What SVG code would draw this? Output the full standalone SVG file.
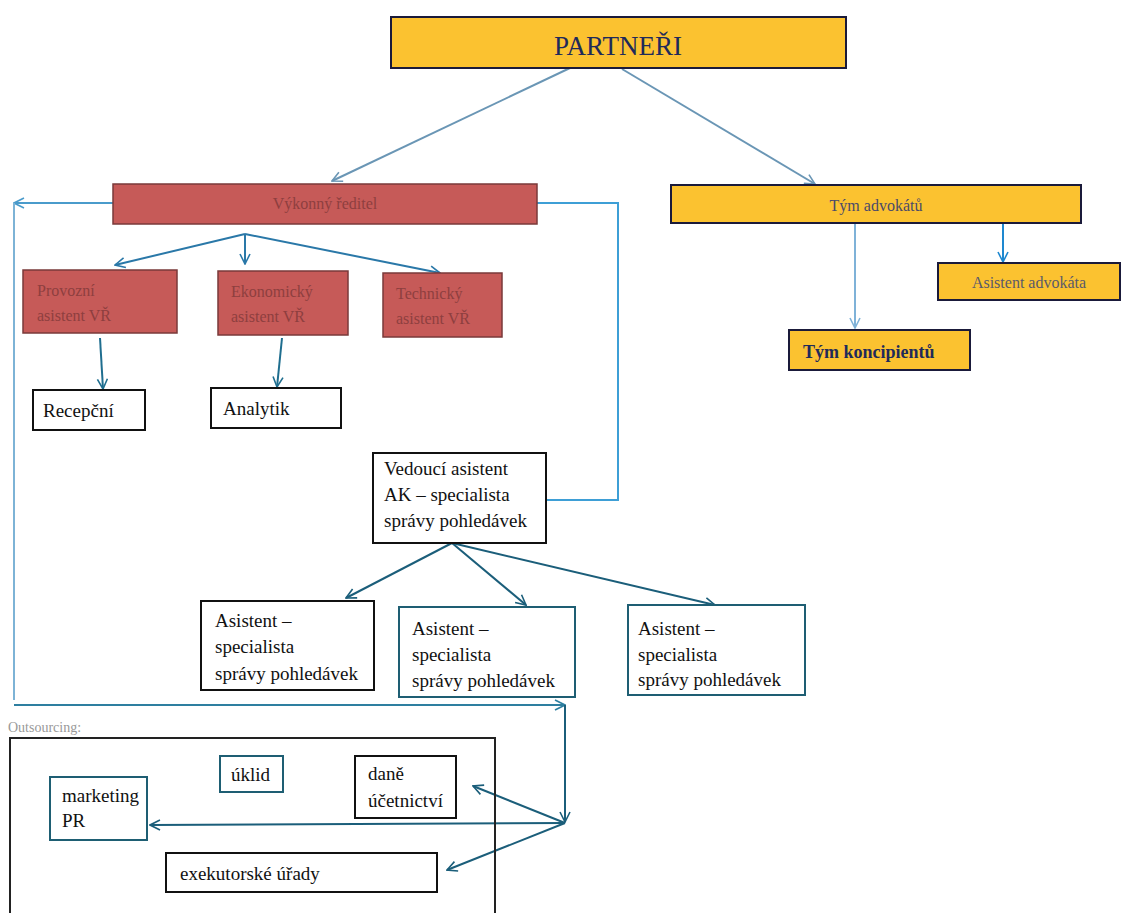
<svg xmlns="http://www.w3.org/2000/svg" width="1141" height="913" viewBox="0 0 1141 913">
<defs>
<style>
text{font-family:"Liberation Serif","Times New Roman","DejaVu Serif",serif}
.t{font-size:19px;fill:#111}
.red{fill:#C65A58;stroke:#7a3a3a;stroke-width:1.5}
.redt{font-size:16px;fill:#8E3F3F}
.yel{fill:#FBC230;stroke:#1a1a3a;stroke-width:2}
.wb{fill:#fff;stroke:#111;stroke-width:2}
.tb{fill:#fff;stroke:#1E5E73;stroke-width:2}
.c{fill:none;stroke-width:2}
</style>
<marker id="a" viewBox="0 0 12 12" refX="11" refY="6" markerWidth="12" markerHeight="12" markerUnits="userSpaceOnUse" orient="auto">
<path d="M1,1 L11,6 L1,11" fill="none" stroke="context-stroke" stroke-width="1.6"/>
</marker>
</defs>
<rect width="1141" height="913" fill="#fff"/>

<g id="connectors">
<line class="c" x1="570" y1="68" x2="332" y2="181" stroke="#6A96B5" marker-end="url(#a)"/>
<line class="c" x1="622" y1="69" x2="815" y2="184" stroke="#6A96B5" marker-end="url(#a)"/>
<polyline class="c" points="113,203 14,203" stroke="#4A9BCB" marker-end="url(#a)"/>
<polyline class="c" points="14,203 14,700" stroke="#7DB3D6" stroke-width="3"/>
<polyline class="c" points="14,705 565,705" stroke="#2E7FA0" marker-end="url(#a)"/>
<polyline class="c" points="537,203 618,203 618,500 518,500" stroke="#3E9FD6" marker-end="url(#a)"/>
<line class="c" x1="245" y1="234" x2="115" y2="265" stroke="#2A78A8" marker-end="url(#a)"/>
<line class="c" x1="245" y1="234" x2="245" y2="264" stroke="#2A78A8" marker-end="url(#a)"/>
<line class="c" x1="245" y1="234" x2="440" y2="273" stroke="#2A78A8" marker-end="url(#a)"/>
<line class="c" x1="100" y1="338" x2="103" y2="389" stroke="#1F6E8F" marker-end="url(#a)"/>
<line class="c" x1="282" y1="338" x2="277" y2="387" stroke="#1F6E8F" marker-end="url(#a)"/>
<line class="c" x1="855" y1="224" x2="855" y2="328" stroke="#7FB2D8" marker-end="url(#a)"/>
<line class="c" x1="1003" y1="223" x2="1003" y2="262" stroke="#1E88D0" marker-end="url(#a)"/>
<line class="c" x1="452" y1="543" x2="346" y2="598" stroke="#1B5E7A" marker-end="url(#a)"/>
<line class="c" x1="452" y1="543" x2="526" y2="605" stroke="#1B5E7A" marker-end="url(#a)"/>
<line class="c" x1="452" y1="543" x2="715" y2="605" stroke="#1B5E7A" marker-end="url(#a)"/>
<line class="c" x1="565" y1="705" x2="565" y2="822" stroke="#1B5E7A" marker-end="url(#a)"/>
<line class="c" x1="565" y1="823" x2="150" y2="825" stroke="#1B5E7A" marker-end="url(#a)"/>
<line class="c" x1="565" y1="823" x2="473" y2="786" stroke="#1B5E7A" marker-end="url(#a)"/>
<line class="c" x1="565" y1="823" x2="447" y2="870" stroke="#1B5E7A" marker-end="url(#a)"/>
</g>

<g id="partneri">
<rect class="yel" x="391" y="17" width="455" height="51"/>
<text x="618" y="55" text-anchor="middle" font-size="27" fill="#1F2A5A">PARTNEŘI</text>
</g>

<g id="vykonny">
<rect class="red" x="113" y="184" width="424" height="40"/>
<text class="redt" x="325" y="209" text-anchor="middle">Výkonný ředitel</text>
</g>

<g id="provozni">
<rect class="red" x="23" y="270" width="154" height="63"/>
<text class="redt" x="37" y="296">Provozní</text>
<text class="redt" x="37" y="321">asistent VŘ</text>
</g>
<g id="ekonomicky">
<rect class="red" x="218" y="271" width="130" height="64"/>
<text class="redt" x="231" y="297">Ekonomický</text>
<text class="redt" x="231" y="322">asistent VŘ</text>
</g>
<g id="technicky">
<rect class="red" x="383" y="273" width="119" height="64"/>
<text class="redt" x="396" y="299">Technický</text>
<text class="redt" x="396" y="324">asistent VŘ</text>
</g>

<g id="recepcni">
<rect class="wb" x="33" y="390" width="112" height="40"/>
<text class="t" x="43" y="417">Recepční</text>
</g>
<g id="analytik">
<rect class="wb" x="211" y="388" width="130" height="40"/>
<text class="t" x="223" y="415">Analytik</text>
</g>

<g id="tym-advokatu">
<rect class="yel" x="671" y="185" width="410" height="38"/>
<text x="876" y="211" text-anchor="middle" font-size="16" fill="#4a4a6a">Tým advokátů</text>
</g>
<g id="asistent-advokata">
<rect class="yel" x="938" y="263" width="182" height="37"/>
<text x="1029" y="288" text-anchor="middle" font-size="16" fill="#5a5a6a">Asistent advokáta</text>
</g>
<g id="tym-koncipientu">
<rect class="yel" x="789" y="330" width="181" height="40" stroke="#1F2A6A"/>
<text x="803" y="358" font-size="18" font-weight="bold" fill="#1F2A5A">Tým koncipientů</text>
</g>

<g id="vedouci">
<rect class="wb" x="373" y="453" width="173" height="90"/>
<text class="t" x="384" y="475">Vedoucí asistent</text>
<text class="t" x="384" y="501">AK – specialista</text>
<text class="t" x="384" y="527">správy pohledávek</text>
</g>

<g id="asistent1">
<rect class="wb" x="201" y="601" width="173" height="89"/>
<text class="t" x="215" y="627">Asistent  –</text>
<text class="t" x="215" y="653">specialista</text>
<text class="t" x="215" y="680">správy pohledávek</text>
</g>
<g id="asistent2">
<rect class="tb" x="399" y="607" width="176" height="90"/>
<text class="t" x="412" y="635">Asistent  –</text>
<text class="t" x="412" y="661">specialista</text>
<text class="t" x="412" y="687">správy pohledávek</text>
</g>
<g id="asistent3">
<rect class="tb" x="628" y="605" width="177" height="90"/>
<text class="t" x="638" y="635">Asistent –</text>
<text class="t" x="638" y="661">specialista</text>
<text class="t" x="638" y="686">správy pohledávek</text>
</g>

<g id="outsourcing">
<text x="8" y="732" font-size="14" fill="#999">Outsourcing:</text>
<path d="M10,913 L10,738 L495,738 L495,913" fill="none" stroke="#222" stroke-width="2"/>
</g>
<g id="uklid">
<rect class="tb" x="220" y="756" width="63" height="36"/>
<text class="t" x="231" y="781" fill="#1E4E60">úklid</text>
</g>
<g id="dane">
<rect class="wb" x="355" y="756" width="101" height="62" stroke="#1E3E50"/>
<text class="t" x="368" y="780">daně</text>
<text class="t" x="368" y="807">účetnictví</text>
</g>
<g id="marketing">
<rect class="tb" x="50" y="777" width="97" height="63"/>
<text class="t" x="62" y="802" fill="#1E4E60">marketing</text>
<text class="t" x="62" y="827" fill="#1E4E60">PR</text>
</g>
<g id="exekutorske">
<rect class="wb" x="166" y="853" width="271" height="39"/>
<text class="t" x="180" y="880">exekutorské úřady</text>
</g>
</svg>
